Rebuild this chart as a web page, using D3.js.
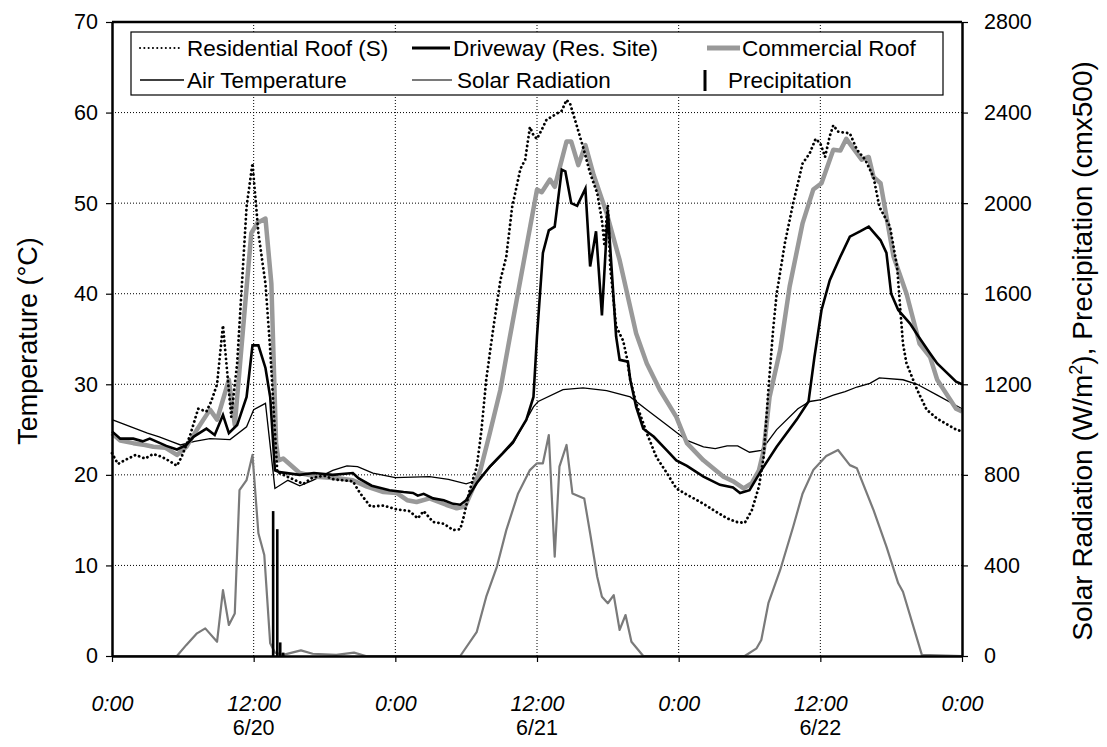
<!DOCTYPE html>
<html>
<head>
<meta charset="utf-8">
<script src="https://cdn.jsdelivr.net/npm/d3@7/dist/d3.min.js"></script>
<style>
  body { margin: 0; background: #fff; }
  text { font-family: "Liberation Sans", Arial, sans-serif; fill: #000; }
</style>
</head>
<body>
<div id="chart"></div>
<script>
// [hour, °C] pairs, hour 0 = 6/20 0:00
var residentialRoof = [[0,22.4],[0.5,21.2],[1.2,21.7],[2,22.2],[2.8,21.8],[3.5,22.3],[4.2,22.0],[4.9,21.5],[5.5,21.0],[5.9,22.0],[6.6,24.3],[7.3,27.3],[8.0,27.0],[8.4,28.1],[8.9,30.0],[9.4,36.5],[10.1,26.4],[10.6,32.3],[11.4,49.6],[11.9,54.4],[12.4,46.7],[13.0,41.1],[13.4,33.8],[14.0,20.3],[15.2,19.6],[16.2,19.0],[17,19.7],[18,19.9],[18.8,19.5],[20.4,19.3],[21.0,18.0],[21.9,16.5],[23.0,16.6],[24.1,16.2],[25.2,16.0],[25.9,15.2],[26.4,16.0],[27.2,14.8],[28.1,14.6],[28.9,13.9],[29.5,14.0],[29.8,15.4],[30.3,18.3],[30.9,20.9],[31.3,25.0],[31.7,30.5],[32.2,35.3],[32.9,41.5],[33.4,44.1],[33.9,49.6],[34.6,53.8],[35.0,54.8],[35.4,58.4],[35.7,57.5],[36.0,57.1],[36.4,58.1],[36.8,59.2],[37.7,59.9],[38.1,60.2],[38.5,61.4],[38.8,61.0],[39.4,58.4],[39.9,56.2],[40.5,53.3],[41.1,51.1],[41.5,48.1],[41.7,45.5],[42.0,49.8],[42.2,43.0],[42.7,36.4],[43.3,34.8],[43.6,33.0],[43.9,30.5],[44.4,27.9],[45.3,24.6],[46.1,22.0],[47.0,20.2],[47.8,18.5],[48.7,17.8],[49.0,17.6],[50.1,16.8],[51.2,15.9],[52.1,15.2],[52.9,14.8],[53.6,14.7],[54.2,16.1],[54.8,18.7],[55.2,22.0],[55.6,29.4],[56.0,36.0],[56.3,40.0],[57.0,45.6],[57.7,50.0],[58.5,54.4],[59.1,55.5],[59.6,57.1],[60.0,56.6],[60.4,55.1],[60.8,57.4],[61.1,58.6],[61.5,57.9],[62.5,57.7],[63.1,55.9],[63.8,54.8],[64.5,52.9],[65.0,49.6],[65.9,47.4],[66.5,43.0],[66.8,37.8],[67.0,34.5],[67.3,32.3],[68.2,29.4],[69.0,27.2],[69.9,26.2],[71.5,25.0],[72,24.8]];

var driveway = [[0,24.8],[0.7,24.0],[1.8,24.0],[2.6,23.7],[3.2,24.0],[4.6,23.2],[5.5,22.8],[6.3,23.3],[6.9,24.2],[8.0,25.1],[8.7,24.4],[9.4,26.6],[9.9,24.6],[10.6,25.5],[11.4,28.6],[11.9,34.3],[12.4,34.3],[13.0,31.8],[13.4,28.6],[13.8,20.5],[14.2,20.3],[15.9,20.0],[17.1,20.2],[18.7,20.0],[20.4,20.2],[20.9,19.6],[22.0,18.8],[23.5,18.3],[24.7,18.1],[25.5,18.0],[25.9,17.7],[26.4,17.9],[27.2,17.4],[28.1,17.2],[28.9,16.8],[29.5,16.7],[30.0,17.2],[30.9,19.1],[32.0,20.9],[33.1,22.4],[34.0,23.7],[35.1,26.1],[35.7,28.6],[36.0,35.3],[36.5,44.5],[37.0,47.0],[37.5,47.4],[38.1,53.7],[38.4,53.5],[38.9,50.0],[39.4,49.7],[40.1,51.6],[40.5,43.0],[41.0,46.9],[41.5,37.6],[42.0,49.1],[42.7,35.3],[43.0,32.7],[43.7,32.5],[43.9,30.5],[44.4,27.5],[45.0,25.1],[45.9,24.2],[47.0,22.7],[47.8,21.6],[48.7,21.0],[50.1,19.8],[51.5,18.9],[52.6,18.6],[53.2,18.0],[54.0,18.3],[55.0,20.5],[56.3,23.1],[58.0,26.1],[59.0,28.1],[59.5,33.0],[60.1,38.2],[60.8,41.5],[61.7,44.1],[62.5,46.3],[63.4,46.9],[64.1,47.4],[65.1,45.9],[65.6,44.5],[66.0,40.0],[66.6,38.2],[67.6,36.7],[68.3,35.3],[69.3,33.4],[69.9,32.3],[71.5,30.3],[72,30.0]];

var commercialRoof = [[0,24.6],[0.7,23.8],[1.8,23.5],[2.8,23.3],[3.5,23.1],[4.5,23.0],[5.5,22.2],[6.3,23.1],[7.2,25.0],[8.3,27.2],[8.9,26.1],[9.9,30.5],[10.4,25.5],[11.8,46.7],[12.3,47.8],[13.0,48.3],[13.5,41.1],[13.9,23.5],[14.1,21.6],[14.5,21.8],[15.9,20.2],[17.3,19.8],[19.3,19.6],[20.4,19.4],[21.6,18.7],[23.0,18.1],[24.1,18.0],[25.0,17.2],[25.8,17.0],[26.9,17.4],[28.3,16.7],[29.2,16.3],[29.9,16.5],[30.5,18.3],[31.2,20.5],[32.0,24.6],[32.9,29.4],[33.6,34.5],[36.0,51.5],[36.4,51.2],[37.1,52.6],[37.5,51.8],[38.5,56.8],[38.9,56.8],[39.5,54.2],[40.1,56.4],[40.8,53.1],[41.9,48.9],[43.0,43.7],[44.4,35.6],[45.3,32.3],[46.4,29.4],[47.8,26.4],[48.7,23.5],[50.1,21.6],[51.8,19.8],[52.6,19.3],[53.5,18.5],[54.2,19.1],[54.8,20.5],[55.2,22.7],[55.7,28.6],[56.6,33.8],[57.4,40.8],[58.5,47.8],[59.4,51.5],[60.1,52.2],[61.1,55.9],[61.7,55.8],[62.2,57.1],[63.5,54.8],[64.1,55.1],[64.5,52.9],[65.1,52.2],[66.2,44.1],[67.3,40.0],[68.4,34.5],[69.3,33.0],[69.9,30.5],[71.5,27.3],[72,27.0]];

var airTemp = [[0,26.1],[1,25.6],[2,25.1],[3,24.6],[4,24.2],[5,23.7],[5.8,23.3],[7,23.7],[8.3,24.0],[10,23.9],[11.4,25.3],[12,27.2],[13,27.9],[13.8,18.5],[14.9,19.4],[15.9,18.8],[17,19.4],[18.7,20.5],[19.9,21.0],[20.8,20.9],[22.1,20.2],[24,19.7],[26.9,19.8],[28.5,19.5],[30,19.0],[30.9,19.4],[32,20.8],[34,23.5],[35.7,27.5],[36.1,28.1],[38.2,29.4],[39.9,29.6],[41.9,29.3],[43.9,28.6],[45.3,27.2],[47,25.5],[48.7,23.8],[50.1,23.1],[51.1,22.9],[52.1,23.2],[53,23.2],[54,22.5],[55,22.7],[56.3,25.0],[58.1,27.3],[59.1,28.1],[60.1,28.3],[61.1,28.8],[62.1,29.2],[63.1,29.7],[64.2,30.1],[65,30.7],[67,30.5],[68.2,30.0],[69.9,28.8],[72,27.3]];

// [hour, W/m2]
var solarRad = [[0,0],[5.5,0],[6.3,49],[7.2,100],[7.9,122],[8.9,63],[9.4,291],[9.9,137],[10.4,188],[10.8,733],[11.4,777],[11.9,888],[12.4,542],[12.9,446],[13.4,56],[13.8,15],[14.5,5],[16,25],[17,10],[19,5],[20.5,15],[21.5,0],[29.5,0],[30.9,107],[31.7,262],[32.6,394],[33.4,556],[34.4,718],[35.4,821],[36,851],[36.5,851],[37,976],[37.5,439],[37.9,836],[38.5,932],[39,718],[40,696],[40.5,542],[41.1,350],[41.5,262],[42,233],[42.5,269],[43,115],[43.5,181],[44,63],[45,0],[53.6,0],[54.6,34],[55,71],[55.6,233],[56.6,380],[57.7,571],[58.5,718],[59.4,821],[60.5,883],[61.5,910],[62.5,843],[63.1,829],[64.5,645],[65.6,483],[66.6,321],[67,284],[68.6,5],[72,0]];

// [hour, cm x 500]
var precip = [[13.65,640],[14.0,560],[14.25,60],[14.5,15]];

var tempTicks = [0,10,20,30,40,50,60,70];
var radTicks = [0,400,800,1200,1600,2000,2400,2800];
var hourTicks = [0,12,24,36,48,60,72];
var hourLabels = ["0:00","12:00","0:00","12:00","0:00","12:00","0:00"];
var dateTicks = [12,36,60];
var dateLabels = ["6/20","6/21","6/22"];

var margin = {top:22, right:145, bottom:91, left:112},
    width = 1107 - margin.left - margin.right,
    height = 747 - margin.top - margin.bottom;

var svg = d3.select("#chart")
            .append("svg")
            .attr("width", 1107)
            .attr("height", 747)
            .append("g")
            .attr("transform", `translate(${margin.left}, ${margin.top})`);

var x = d3.scaleLinear().domain([0,72]).range([0,width]);
var yTemp = d3.scaleLinear().domain([0,70]).range([height,0]);
var yRad = d3.scaleLinear().domain([0,2800]).range([height,0]);

// dotted grid
svg.append("g")
   .selectAll("line")
   .data(tempTicks.slice(1,-1))
   .enter().append("line")
   .attr("x1", 0).attr("x2", width)
   .attr("y1", d => yTemp(d)).attr("y2", d => yTemp(d))
   .attr("stroke", "#000").attr("stroke-width", 1)
   .attr("stroke-dasharray", "1,2");

svg.append("g")
   .selectAll("line")
   .data(hourTicks.slice(1,-1))
   .enter().append("line")
   .attr("x1", d => x(d)).attr("x2", d => x(d))
   .attr("y1", 0).attr("y2", height)
   .attr("stroke", "#000").attr("stroke-width", 1)
   .attr("stroke-dasharray", "1,2");

var tempLine = d3.line().x(d => x(d[0])).y(d => yTemp(d[1]));
var radLine = d3.line().x(d => x(d[0])).y(d => yRad(d[1]));

svg.append("path").datum(solarRad)
   .attr("fill", "none").attr("stroke", "#7a7a7a").attr("stroke-width", 2.2)
   .attr("stroke-linejoin", "round")
   .attr("d", radLine);

svg.append("g").selectAll("rect")
   .data(precip)
   .enter().append("rect")
   .attr("x", d => x(d[0]) - 1.3)
   .attr("width", 2.6)
   .attr("y", d => yRad(d[1]))
   .attr("height", d => height - yRad(d[1]))
   .attr("fill", "#000");

svg.append("path").datum(airTemp)
   .attr("fill", "none").attr("stroke", "#000").attr("stroke-width", 1.3)
   .attr("d", tempLine);

svg.append("path").datum(commercialRoof)
   .attr("fill", "none").attr("stroke", "#999").attr("stroke-width", 4.5)
   .attr("stroke-linejoin", "round")
   .attr("d", tempLine);

svg.append("path").datum(driveway)
   .attr("fill", "none").attr("stroke", "#000").attr("stroke-width", 2.6)
   .attr("d", tempLine);

svg.append("path").datum(residentialRoof)
   .attr("fill", "none").attr("stroke", "#000").attr("stroke-width", 2.8)
   .attr("stroke-linecap", "round")
   .attr("stroke-dasharray", "0.1,4.4")
   .attr("d", tempLine);

// axes
var leftAxis = svg.append("g")
   .call(d3.axisLeft(yTemp).tickValues(tempTicks).tickSize(6).tickSizeOuter(0).tickPadding(8));
var rightAxis = svg.append("g")
   .attr("transform", `translate(${width}, 0)`)
   .call(d3.axisRight(yRad).tickValues(radTicks).tickSize(6).tickSizeOuter(0).tickPadding(16)
         .tickFormat(d3.format("d")));
var bottomAxis = svg.append("g")
   .attr("transform", `translate(0, ${height})`)
   .call(d3.axisBottom(x).tickValues(hourTicks).tickSize(6).tickSizeOuter(0)
         .tickFormat((d, i) => hourLabels[i]));

[leftAxis, rightAxis, bottomAxis].forEach(a => {
  a.select(".domain").attr("stroke-width", 2.5);
  a.selectAll(".tick line").attr("stroke-width", 1.2);
  a.selectAll("text").attr("font-size", 21.5).attr("font-family", null);
});
bottomAxis.selectAll("text").attr("font-style", "italic").attr("y", 55).attr("dy", 0);

svg.append("line")
   .attr("x1", 0).attr("x2", width).attr("y1", 0).attr("y2", 0)
   .attr("stroke", "#000").attr("stroke-width", 2.5);

svg.append("g")
   .selectAll("text")
   .data(dateTicks)
   .enter().append("text")
   .attr("x", d => x(d))
   .attr("y", height + 79)
   .attr("text-anchor", "middle")
   .attr("font-size", 21.5)
   .text((d, i) => dateLabels[i]);

svg.append("text")
   .attr("transform", `translate(-75, ${height / 2 + 2}) rotate(-90)`)
   .attr("text-anchor", "middle")
   .attr("font-size", 27)
   .text("Temperature (°C)");

var rTitle = svg.append("text")
   .attr("transform", `translate(${width + 130}, ${height / 2 + 12}) rotate(-90)`)
   .attr("text-anchor", "middle")
   .attr("font-size", 28);
rTitle.append("tspan").text("Solar Radiation (W/m");
rTitle.append("tspan").attr("font-size", 18).attr("dy", -10).text("2");
rTitle.append("tspan").attr("dy", 10).text("), Precipitation (cmx500)");

// legend
var legend = svg.append("g").attr("transform", `translate(${131 - margin.left}, ${32 - margin.top})`);
legend.append("rect")
   .attr("width", 812).attr("height", 63)
   .attr("fill", "#fff").attr("stroke", "#000").attr("stroke-width", 1.2);

var legendItems = [
  {name: "Residential Roof (S)", row: 0, stroke: "#000", w: 2, dash: "0.1,4.2", cap: "round", x0: 9, x1: 49, tx: 56},
  {name: "Driveway (Res. Site)", row: 0, stroke: "#000", w: 3, x0: 281, x1: 319, tx: 322},
  {name: "Commercial Roof", row: 0, stroke: "#999", w: 5, x0: 576, x1: 609, tx: 611},
  {name: "Air Temperature", row: 1, stroke: "#000", w: 1.3, x0: 9, x1: 53, tx: 56},
  {name: "Solar Radiation", row: 1, stroke: "#7a7a7a", w: 2.2, x0: 281, x1: 321, tx: 326},
  {name: "Precipitation", row: 1, bar: true, x0: 574, tx: 597}
];

legendItems.forEach(item => {
  var cy = item.row === 0 ? 16 : 48;
  if (item.bar) {
    legend.append("rect").attr("x", item.x0 - 1.5).attr("width", 3)
      .attr("y", cy - 10).attr("height", 21).attr("fill", "#000");
  } else {
    legend.append("line")
      .attr("x1", item.x0).attr("x2", item.x1).attr("y1", cy).attr("y2", cy)
      .attr("stroke", item.stroke).attr("stroke-width", item.w)
      .attr("stroke-dasharray", item.dash || null)
      .attr("stroke-linecap", item.cap || "butt");
  }
  legend.append("text")
    .attr("x", item.tx).attr("y", cy + 8)
    .attr("font-size", 22.5)
    .text(item.name);
});
</script>
</body>
</html>
